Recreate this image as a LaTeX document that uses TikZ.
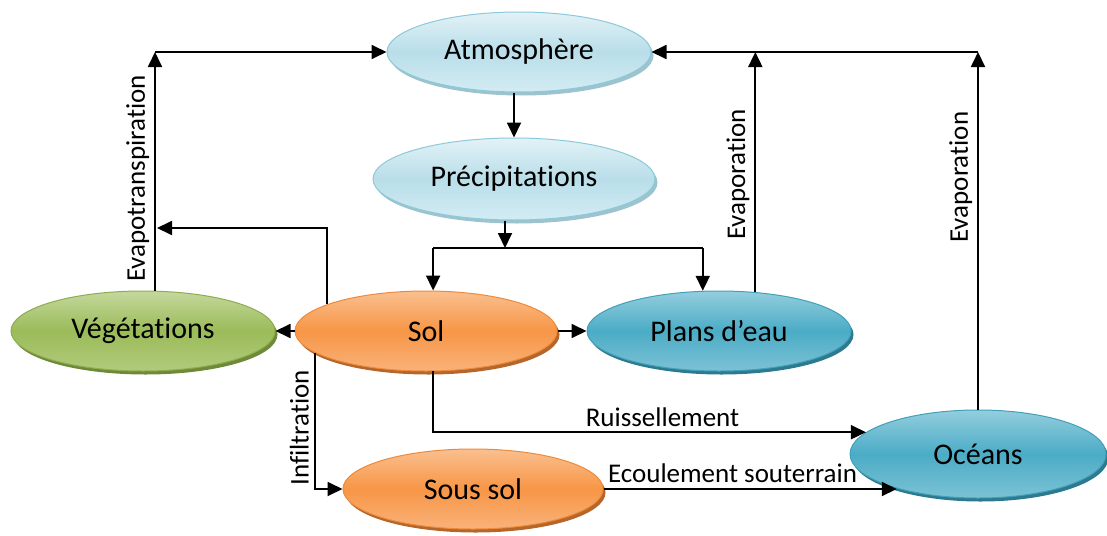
\documentclass[tikz,border=0pt]{standalone}
\usepackage{fontspec}
\setmainfont{Carlito}[Ligatures={NoCommon}]
\usetikzlibrary{shapes.geometric,arrows.meta,shadows}

% palettes: top / middle / bottom of the gradient, outline, bevel shadow
\definecolor{skytop}{HTML}{E2F2F6}
\definecolor{skymid}{HTML}{B9DEE9}
\definecolor{skybot}{HTML}{D3ECF3}
\definecolor{skyline}{HTML}{8CC9DA}
\definecolor{skyshade}{HTML}{9CC3CE}
\definecolor{leaftop}{HTML}{C4D89D}
\definecolor{leafmid}{HTML}{9BBB59}
\definecolor{leafbot}{HTML}{B2CB7C}
\definecolor{leafline}{HTML}{8DAD4F}
\definecolor{leafshade}{HTML}{6E8A38}
\definecolor{embertop}{HTML}{FABF8F}
\definecolor{embermid}{HTML}{F79646}
\definecolor{emberbot}{HTML}{F9B27A}
\definecolor{emberline}{HTML}{EE8A3A}
\definecolor{embershade}{HTML}{B5662A}
\definecolor{seatop}{HTML}{93CEDE}
\definecolor{seamid}{HTML}{4BACC6}
\definecolor{seabot}{HTML}{7CC2D5}
\definecolor{sealine}{HTML}{43A0B9}
\definecolor{seashade}{HTML}{2C7A8F}

\begin{document}
\begin{tikzpicture}[x=1pt,y=-1pt,
  bubble/.style={ellipse, inner sep=0pt,
    minimum width=264pt, minimum height=80pt,
    font=\fontsize{30}{34}\selectfont,
    draw=#1line, line width=1pt,
    top color=#1top, bottom color=#1bot, middle color=#1mid,
    drop shadow={shadow xshift=2.5pt, shadow yshift=-3.5pt,
                 fill=#1shade, opacity=1}},
  arr/.style={-{Triangle[length=15pt,width=14pt]}, line width=1.8pt},
  flat/.style={line width=1.8pt},
  lab/.style={font=\fontsize{27}{31}\selectfont, inner sep=5pt},
  vlab/.style={lab, rotate=90, anchor=south}]

\useasboundingbox (0,0) rectangle (1107,535);

% water cycle stations
\node[bubble=sky] (atm) at (519,52) {Atmosphère};
\node[bubble=sky, minimum width=282pt, minimum height=82pt] (prec) at (514,179) {Précipitations};
\node[bubble=leaf] (vege) at (143,331) {Végétations};
\node[bubble=ember, minimum width=262pt] (sol) at (426,331) {Sol};
\node[bubble=sea] (plans) at (719,331) {Plans d’eau};
\node[bubble=sea, minimum width=256pt, minimum height=88pt] (oceans) at (978,454) {Océans};
\node[bubble=ember, minimum width=260pt] (sous) at (473,489) {Sous sol};

% bends of the connectors
\coordinate (evt) at (155,52);
\coordinate (evs) at (157,228);
\coordinate (split) at (505,248);
\coordinate (evp) at (plans.47 |- atm.east);
\coordinate (evo) at (oceans.north |- atm.east);

% rain falls on soil and open water
\draw[arr] (atm.south -| prec) -- (prec.north);
\draw[arr] (prec.south -| split) -- (split);
\draw[flat] (sol.80 |- split) -- (plans.112 |- split);
\draw[arr] (sol.80 |- split) -- (sol.80);
\draw[arr] (plans.112 |- split) -- (plans.112);

% evapotranspiration
\draw[arr] (vege.north -| evt) -- node[vlab, pos=.47] {Evapotranspiration} (evt);
\draw[arr] (evt) -- (atm.west);
\draw[arr] (sol.165) |- (evs);

% evaporation
\draw[arr] (plans.47) -- node[vlab, pos=.49] {Evaporation} (evp);
\draw[arr] (oceans.north) -- node[vlab, pos=.65] {Evaporation} (evo);
\draw[arr] (evo) -- (atm.east);

% soil exchanges
\draw[arr] (sol.west) -- (vege.east);
\draw[arr] (sol.east) -- (plans.west);
\draw[arr] (sol.191) |- node[vlab, pos=.276] {Infiltration} (sous.west);
\draw[arr] (sol.280) |- node[lab, pos=.765, anchor=south] {Ruissellement} (oceans.169);
\draw[arr] (sous.east) -- node[lab, pos=.44, anchor=south] {Ecoulement souterrain} (sous.east -| oceans.203);

\end{tikzpicture}
\end{document}
